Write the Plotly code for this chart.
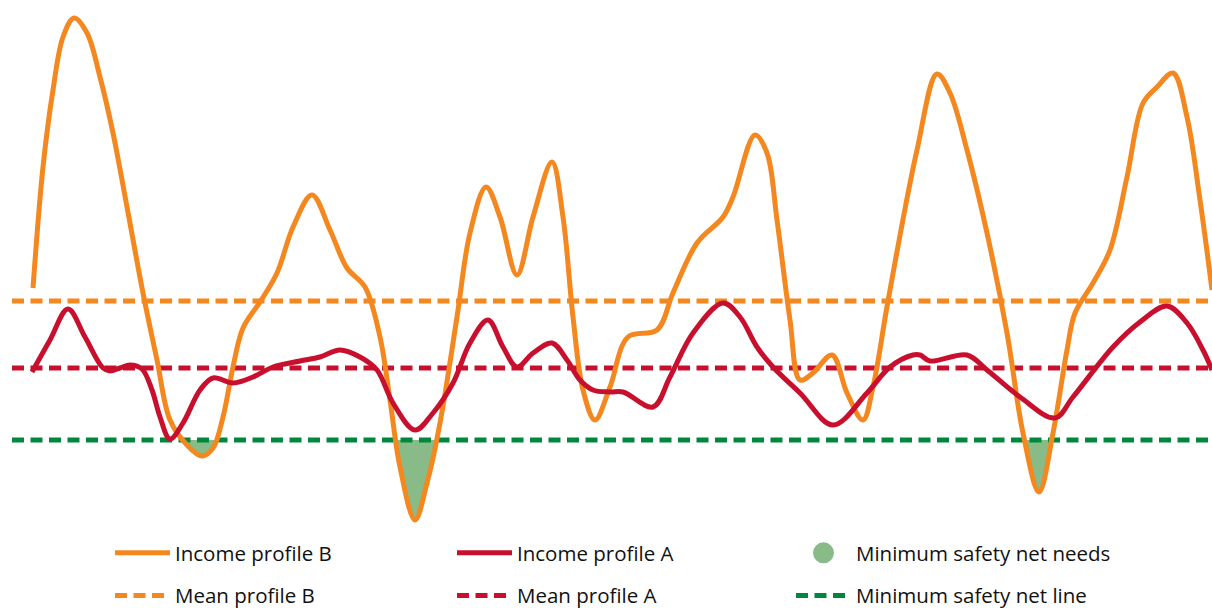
import plotly.graph_objects as go

# ---- data (x = period position, y = income level) ----
period_b = [33, 43, 53, 63, 74, 87, 100, 113, 127, 143, 157, 170, 187, 202, 213, 223, 233, 243,
            260, 277, 293, 312, 330, 347, 365, 380, 390, 400, 415, 427, 440, 457, 470, 486, 500,
            517, 533, 552, 563, 573, 583, 595, 610, 628, 657, 673, 697, 723, 733, 755, 767, 777,
            790, 800, 813, 832, 847, 863, 873, 888, 917, 937, 950, 967, 987, 1007, 1023, 1039,
            1053, 1067, 1075, 1093, 1110, 1127, 1143, 1157, 1173, 1187, 1200, 1212]
income_b = [323, 444, 521, 574, 593, 578, 534, 478, 404, 318, 251, 191, 166, 155, 163, 194, 244, 283,
            309, 338, 384, 416, 381, 343, 324, 274, 211, 144, 91, 128, 188, 294, 378, 424, 394,
            336, 394, 449, 394, 294, 221, 191, 224, 274, 281, 318, 368, 394, 414, 476, 458, 391,
            291, 231, 238, 256, 218, 191, 224, 310, 461, 537, 518, 461, 378, 278, 178, 119,
            178, 261, 298, 328, 361, 434, 508, 524, 538, 494, 411, 321]

period_a = [32, 50, 68, 85, 103, 110, 120, 130, 142, 152, 160, 170, 183, 200, 213, 233, 253, 273,
            300, 320, 340, 360, 377, 393, 415, 433, 453, 470, 488, 503, 517, 533, 552, 567, 580,
            593, 610, 623, 653, 670, 693, 723, 740, 757, 773, 800, 833, 867, 890, 913, 920, 930,
            967, 987, 1020, 1055, 1073, 1113, 1140, 1167, 1187, 1203, 1212]
income_a = [239, 271, 302, 274, 243, 240, 243, 246, 242, 221, 194, 172, 188, 221, 233, 228, 234, 244,
            250, 254, 261, 254, 241, 208, 181, 198, 228, 268, 291, 264, 244, 258, 268, 251, 231,
            221, 219, 219, 204, 234, 278, 308, 294, 264, 244, 218, 186, 218, 244, 256, 256, 250,
            256, 241, 214, 193, 214, 264, 289, 305, 288, 261, 241]

mean_b = 310
mean_a = 243
safety_net = 171
ref_span = [12, 1212]

ORANGE = "#f5871f"
RED = "#c8102e"
GREEN = "#00873e"
FILL = "#89bb89"
FONT = "Open Sans"
DASH = "12px,6.5px"

fig = go.Figure()

# green "needs" area: fill below safety net line, then mask everything under income B in white
span_b = [period_b[0], period_b[-1]]
fig.add_trace(go.Scatter(x=span_b, y=[safety_net, safety_net], mode="lines", line=dict(width=0),
                         fill="tozeroy", fillcolor=FILL, showlegend=False, hoverinfo="skip"))
fig.add_trace(go.Scatter(x=period_b, y=income_b, mode="lines", line=dict(width=0, shape="spline"),
                         fill="tozeroy", fillcolor="white", showlegend=False, hoverinfo="skip"))

# reference lines
fig.add_trace(go.Scatter(x=ref_span, y=[mean_b, mean_b], mode="lines", name="Mean profile B",
                         line=dict(color=ORANGE, width=5, dash=DASH),
                         legend="legend", legendgroup="mb", legendrank=2))
fig.add_trace(go.Scatter(x=ref_span, y=[mean_a, mean_a], mode="lines", name="Mean profile A",
                         line=dict(color=RED, width=5, dash=DASH),
                         legend="legend2", legendgroup="ma", legendrank=2))
fig.add_trace(go.Scatter(x=ref_span, y=[safety_net, safety_net], mode="lines",
                         name="Minimum safety net line",
                         line=dict(color=GREEN, width=5, dash=DASH),
                         legend="legend3", legendgroup="sn", legendrank=2))

# income profiles
fig.add_trace(go.Scatter(x=period_b, y=income_b, mode="lines", name="Income profile B",
                         line=dict(color=ORANGE, width=5, shape="spline"),
                         legend="legend", legendgroup="ib", legendrank=1))
fig.add_trace(go.Scatter(x=period_a, y=income_a, mode="lines", name="Income profile A",
                         line=dict(color=RED, width=5, shape="spline"),
                         legend="legend2", legendgroup="ia", legendrank=1))

# legend key for the shaded needs area
fig.add_trace(go.Scatter(x=[None], y=[None], mode="markers", name="Minimum safety net needs",
                         marker=dict(color=FILL, size=30, symbol="circle",
                                     line=dict(color=FILL, width=5)),
                         legend="legend3", legendgroup="nd", legendrank=1))

leg_common = dict(font=dict(family=FONT, size=20.5, color="#111111"), bgcolor="rgba(0,0,0,0)",
                  traceorder="grouped", tracegroupgap=13, itemwidth=55,
                  xanchor="left", yanchor="top", itemsizing="trace")
leg_top = 78 / 611
fig.update_layout(
    width=1212, height=611,
    margin=dict(l=0, r=0, t=0, b=0, autoexpand=False),
    paper_bgcolor="white", plot_bgcolor="white",
    xaxis=dict(range=[0, 1212], visible=False, fixedrange=True),
    yaxis=dict(range=[0, 611], visible=False, fixedrange=True),
    legend=dict(x=110 / 1212, y=leg_top, **leg_common),
    legend2=dict(x=452 / 1212, y=leg_top, **leg_common),
    legend3=dict(x=791 / 1212, y=leg_top, **leg_common),
    hovermode=False,
)

page_css = ("var h=document.documentElement,b=document.body;"
            "h.style.margin='0';h.style.height='611px';h.style.overflow='hidden';"
            "b.style.margin='0';b.style.height='611px';b.style.overflow='hidden';")
fig.write_html("out.html", config={"displayModeBar": False, "staticPlot": True},
               post_script=page_css)
